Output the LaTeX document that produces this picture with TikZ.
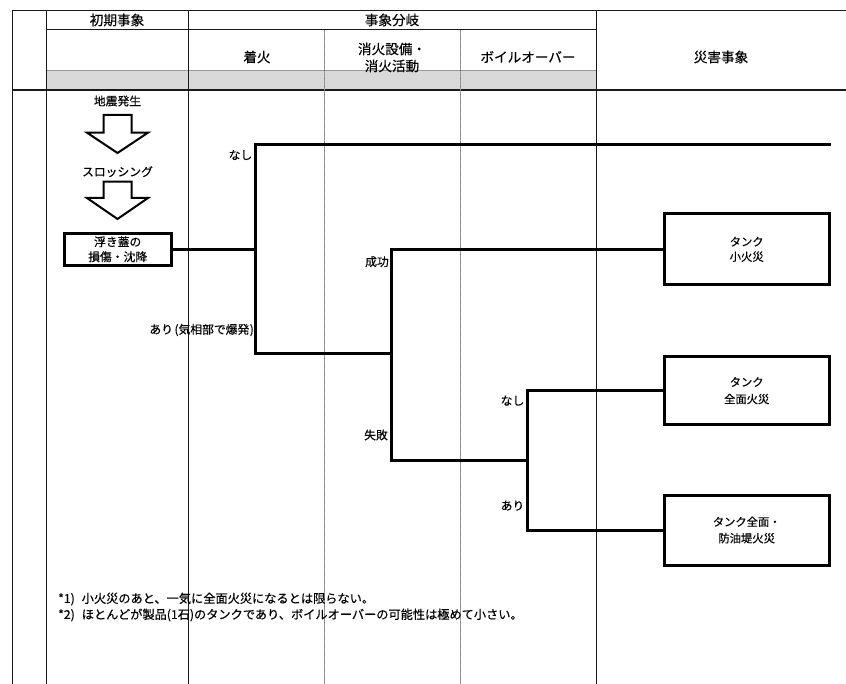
\documentclass[tikz,border=0pt]{standalone}
\usepackage{fontspec}
\setmainfont{Noto Sans CJK JP}[FakeBold=0.3]
\definecolor{bandgray}{RGB}{217,217,217}
\definecolor{dashgray}{RGB}{150,150,150}
\begin{document}
\begin{tikzpicture}[x=1pt,y=-1pt,
  grid/.style={draw=black!90,line width=1pt},
  dgrid/.style={draw=dashgray,line width=1pt},
  dticks/.style={draw=black!55,line width=1pt,dash pattern=on 1pt off 7pt},
  tree/.style={draw=black,line width=3pt,line join=miter},
  hollow/.style={draw=black,line width=2pt,fill=white,line join=miter},
  head/.style={inner sep=0pt,font=\fontsize{13.6}{17}\selectfont,align=center},
  lab/.style={inner sep=0pt,font=\fontsize{11.8}{15}\selectfont,align=center},
  note/.style={inner sep=0pt,font=\fontsize{12.2}{15}\selectfont,anchor=west},
  evbox/.style={draw=black,line width=3pt,fill=white,inner sep=0pt,align=center,
    font=\fontsize{11.3}{18}\selectfont,minimum width=165pt,minimum height=70pt}]
\useasboundingbox (0,0) rectangle (846,684);
% table
\fill[bandgray] (46,70) rectangle (596,90);
\draw[black!40,line width=0.8pt] (46,70) -- (596,70);
\draw[grid] (12,10.5) -- (846,10.5);
\draw[grid] (46,30) -- (596,30);
\draw[grid,line width=1.8pt] (12,90) -- (846,90);
\draw[grid] (12,10.5) -- (12,684);
\draw[grid] (46,10.5) -- (46,684);
\draw[grid] (188,10.5) -- (188,684);
\draw[grid] (596,10.5) -- (596,684);
\draw[dgrid] (324,30) -- (324,684);
\draw[dticks] (324,30) -- (324,684);
\draw[dgrid] (460,30) -- (460,684);
\draw[dticks] (460,30) -- (460,684);
% header texts
\node[head] (h1) at (117,20) {初期事象};
\node[head] (h2) at (392,20) {事象分岐};
\node[head] (h3) at (257,57) {着火};
\node[head] (h4) at (392,57.5) {消火設備・\\消火活動};
\node[head] (h5) at (528,57) {ボイルオーバー};
\node[head] (h6) at (721,57) {災害事象};
% initial events
\node[lab] (e1) at (117.5,101) {地震発生};
\draw[hollow] (103.5,115) -- (131.5,115) -- (131.5,132.7) -- (148,132.7) -- (117.5,153)
  -- (87,132.7) -- (103.5,132.7) -- cycle;
\node[lab] (e2) at (117.5,171.7) {スロッシング};
\draw[hollow] (103.5,181.7) -- (131.5,181.7) -- (131.5,198) -- (148,198) -- (117.5,219)
  -- (87,198) -- (103.5,198) -- cycle;
\node[evbox,minimum width=107pt,minimum height=32pt,font=\fontsize{11.8}{15}\selectfont]
  (b0) at (117.7,249.3) {浮き蓋の\\損傷・沈降};
% outcome boxes
\node[evbox,minimum height=71pt] (b1) at (746.7,249.3) {\raisebox{-2pt}{\shortstack{タンク\\[2pt]小火災}}};
\node[evbox,minimum height=68pt] (b2) at (746.7,390.7) {\raisebox{-1.5pt}{\shortstack{タンク\\[4pt]全面火災}}};
\node[evbox] (b3) at (746.7,530) {\raisebox{-1.5pt}{\shortstack{タンク全面・\\[3pt]防油堤火災}}};
% tree coordinates
\coordinate (t1) at (255,145);
\coordinate (d1) at (255,354);
\coordinate (f1) at (831,145);
\coordinate (t2) at (391.7,249.3);
\coordinate (d2) at (391.7,460);
\coordinate (t3) at (527.3,390.7);
\coordinate (d3) at (527.3,530);
\draw[tree] (b0.east) -- (b0.east -| t1);
\draw[tree] (f1) -- (t1) -- (d1) -- (d1 -| t2);
\draw[tree] (b1.west) -- (t2) -- (d2) -- (d2 -| t3);
\draw[tree] (b2.west) -- (t3) -- (d3) -- (b3.west);
% branch labels
\node[lab,anchor=east] (l1) at (252.5,155) {なし};
\node[lab,anchor=east] (l2) at (254,330) {あり\hspace{1.5pt}(気相部で爆発\hspace{0.5pt})};
\node[lab,anchor=east] (l3) at (389,261.7) {成功};
\node[lab,anchor=east] (l4) at (388,435) {失敗};
\node[lab,anchor=east] (l5) at (524.5,400.7) {なし};
\node[lab,anchor=east] (l6) at (524.5,505.7) {あり};
% notes
\node[note] (n1) at (58,599) {*1)\hspace{7pt}小火災のあと、一気に全面火災になるとは限らない。};
\node[note] (n2) at (58,615) {*2)\hspace{7pt}ほとんどが製品(1石)のタンクであり、ボイルオーバーの可能性は極めて小さい。};
\end{tikzpicture}
\end{document}
